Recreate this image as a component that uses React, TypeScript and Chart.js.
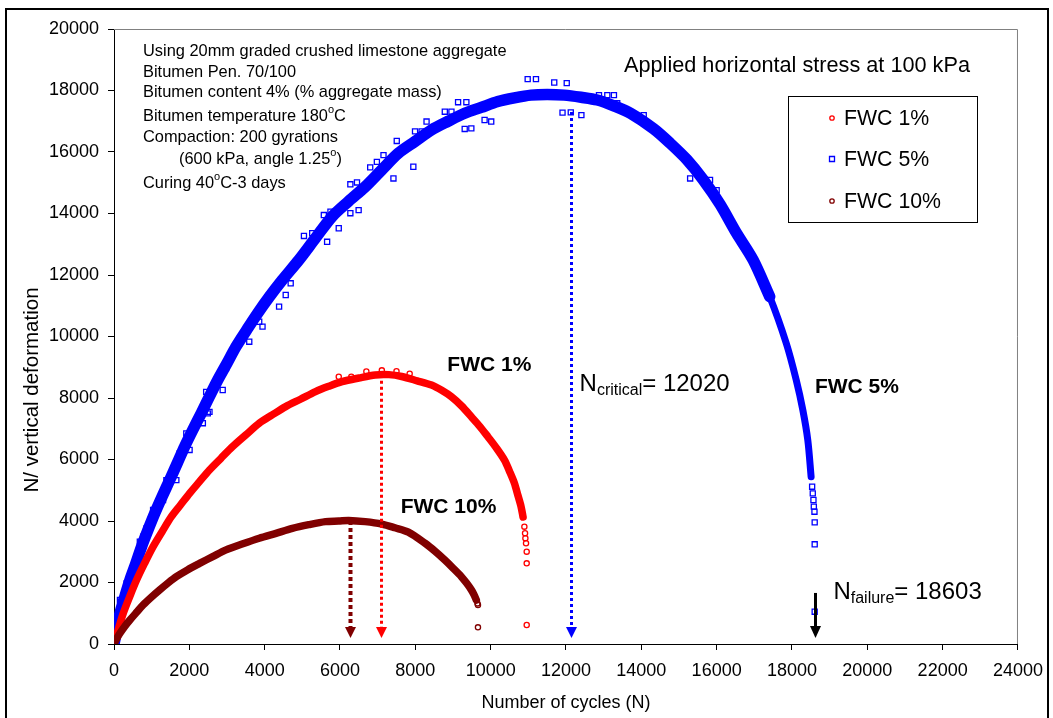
import React, { useEffect, useRef } from 'react';
import { Chart, registerables } from 'chart.js';

Chart.register(...registerables);

const FONT = '"Liberation Sans", Arial, Helvetica, sans-serif';

// ---------- axes ----------
const xTickValues = [0, 2000, 4000, 6000, 8000, 10000, 12000, 14000, 16000, 18000, 20000, 22000, 24000];
const yTickValues = [0, 2000, 4000, 6000, 8000, 10000, 12000, 14000, 16000, 18000, 20000];
const xTitle = 'Number of cycles (N)';
const yTitle = 'N/ vertical deformation';

// ---------- series ----------
const seriesNames = ['FWC 1%', 'FWC 5%', 'FWC 10%'];

// FWC 5% (blue squares): dense band centre line (main part and thinner tip, overlapping)
const fwc5BandX = [0, 80, 158, 290, 422, 580, 731, 900, 1082, 1280, 1478, 1680, 1875, 2090, 2315, 2530, 2754, 3000, 3239, 3520, 3810, 4130, 4471, 4911, 5350, 5790, 6230, 6670, 7110, 7551, 7990, 8431, 8870, 9311, 9750, 10191, 10630, 11071, 11500, 11952, 12400, 12832, 13270, 13711, 14330, 14768, 15210, 15648, 16090, 16528, 16968, 17408];
const fwc5BandY = [0, 500, 1000, 1550, 2080, 2620, 3165, 3700, 4250, 4800, 5330, 5880, 6420, 6960, 7500, 8040, 8585, 9130, 9670, 10210, 10750, 11300, 11840, 12490, 13200, 13900, 14400, 14870, 15420, 15960, 16340, 16720, 17000, 17260, 17450, 17640, 17760, 17850, 17870, 17850, 17780, 17690, 17500, 17260, 16750, 16280, 15750, 15090, 14300, 13360, 12490, 11300];
const fwc5TipX = [16528, 16968, 17408, 17848, 18112, 18288, 18420, 18508];
const fwc5TipY = [13360, 12490, 11300, 9780, 8590, 7610, 6630, 5440];
// FWC 5%: individual scattered / tail markers
const fwc5DotsX = [18535, 18552, 18570, 18580, 18597, 18603, 18603, 18603, 10983, 11203, 11688, 12020, 11908, 12127, 12409, 10015, 9839, 9487, 9311, 8298, 8783, 8959, 9135, 9355, 7992, 8167, 7947, 7507, 7155, 6802, 6979, 6275, 6451, 6495, 6275, 5571, 5747, 5262, 5043, 5658, 5967, 7419, 14064, 13273, 13097, 12876, 13185, 13360, 15296, 15824, 16000, 4383, 4559, 4691, 3943, 3855, 3678, 3459, 3591, 2886, 2975, 2799, 2447, 2886, 2535, 2490, 1919, 2359, 1743, 2007, 1391, 1655, 1038, 1302, 863, 774, 686, 510, 335, 158];
const fwc5DotsY = [5116, 4900, 4683, 4466, 4303, 3957, 3242, 1050, 18370, 18370, 18260, 18240, 17280, 17290, 17200, 16990, 17040, 16770, 16750, 16990, 17310, 17310, 17620, 17620, 16670, 16670, 15520, 16360, 15900, 15500, 15680, 14950, 15010, 14110, 14010, 13950, 14060, 13360, 13270, 13080, 13520, 15140, 17200, 17850, 17850, 17850, 17590, 17590, 15140, 15090, 14760, 10970, 11350, 11730, 10320, 10480, 10480, 10100, 9830, 8910, 8970, 8750, 8200, 8260, 7550, 7500, 6850, 7180, 6200, 6310, 5330, 5330, 4360, 4680, 3760, 3490, 3330, 2510, 1970, 1430];

// FWC 1% (red circles)
const fwc1BandX = [0, 100, 246, 420, 599, 810, 1038, 1280, 1523, 1765, 2007, 2270, 2535, 2840, 3150, 3500, 3855, 4200, 4559, 4950, 5351, 5700, 6055, 6500, 6935, 7300, 7639, 8050, 8431, 8700, 8959, 9230, 9487, 9710, 9927, 10150, 10367, 10500, 10631, 10720, 10807, 10860];
const fwc1BandY = [0, 420, 1000, 1550, 2080, 2620, 3165, 3660, 4140, 4520, 4900, 5280, 5660, 6040, 6420, 6800, 7180, 7450, 7720, 7960, 8210, 8380, 8530, 8650, 8750, 8760, 8700, 8560, 8420, 8250, 8040, 7740, 7390, 7080, 6740, 6380, 5980, 5620, 5230, 4850, 4470, 4130];
const fwc1DotsX = [10895, 10913, 10922, 10939, 10957, 10957, 10957, 7111, 5967, 6700, 7500, 6300, 7850];
const fwc1DotsY = [3816, 3600, 3437, 3275, 3003, 2623, 618, 8900, 8690, 8860, 8870, 8690, 8790];

// FWC 10% (dark red circles)
const fwc10BandX = [0, 60, 158, 290, 422, 600, 774, 990, 1214, 1430, 1655, 1950, 2271, 2620, 2975, 3400, 3855, 4300, 4735, 5170, 5615, 5967, 6231, 6670, 7111, 7460, 7815, 8255, 8520, 8783, 9000, 9223, 9360, 9487, 9560, 9619];
const fwc10BandY = [0, 150, 350, 580, 780, 1030, 1270, 1520, 1760, 1980, 2190, 2410, 2620, 2840, 3060, 3250, 3440, 3600, 3760, 3880, 3980, 4000, 4020, 3980, 3900, 3780, 3640, 3280, 3020, 2730, 2470, 2190, 1980, 1760, 1600, 1430];
const fwc10DotsX = [9650, 9663, 9663];
const fwc10DotsY = [1320, 1268, 542];

// ---------- arrows (critical / failure cycles) ----------
const arrowN = [6275, 7094, 12120, 18603];
const arrowFromY = [4000, 8760, 17300, 1660];
const arrowToY = [195, 195, 195, 195];
const nCritical = 12020;
const nFailure = 18603;

// ---------- annotation text ----------
const infoLines = [
  'Using 20mm graded crushed limestone aggregate',
  'Bitumen Pen. 70/100',
  'Bitumen content 4% (% aggregate mass)',
  'Bitumen temperature 180^oC',
  'Compaction: 200 gyrations',
  '(600 kPa, angle 1.25^o)',
  'Curing 40^oC-3 days',
];
const stressTitle = 'Applied horizontal stress at 100 kPa';

const BLUE = '#0000FF';
const RED = '#FF0000';
const DARK = '#800000';

const pts = (xs: number[], ys: number[]) => xs.map((x, i) => ({ x, y: ys[i] }));

function drawRuns(ctx: CanvasRenderingContext2D, x: number, y: number, runs: [string, number, number, string?][]) {
  let cx = x;
  for (const [t, size, dy, weight] of runs) {
    ctx.font = `${weight || 'normal'} ${size}px ${FONT}`;
    ctx.fillText(t, cx, y + dy);
    cx += ctx.measureText(t).width;
  }
}

function drawSup(ctx: CanvasRenderingContext2D, x: number, y: number, line: string, size: number) {
  const parts = line.split('^o');
  const runs: [string, number, number][] = [];
  parts.forEach((p, i) => {
    if (p) runs.push([p, size, 0]);
    if (i < parts.length - 1) runs.push(['o', Math.round(size * 0.68), -Math.round(size * 0.5)]);
  });
  drawRuns(ctx, x, y, runs);
}

const decorPlugin = {
  id: 'decor',
  beforeDraw(chart: any) {
    const ctx = chart.ctx;
    ctx.save();
    ctx.fillStyle = '#fff';
    ctx.fillRect(0, 0, chart.width, chart.height);
    ctx.restore();
  },
  beforeDatasetsDraw(chart: any) {
    const { ctx, chartArea: a } = chart;
    ctx.save();
    ctx.strokeStyle = '#808080';
    ctx.lineWidth = 1;
    ctx.beginPath();
    ctx.moveTo(a.left, a.top + 0.5);
    ctx.lineTo(a.right - 0.5, a.top + 0.5);
    ctx.lineTo(a.right - 0.5, a.bottom);
    ctx.stroke();
    // y axis title
    ctx.fillStyle = '#000';
    ctx.font = `normal 20.5px ${FONT}`;
    ctx.textAlign = 'center';
    ctx.textBaseline = 'middle';
    ctx.translate(32, 390);
    ctx.rotate(-Math.PI / 2);
    ctx.fillText(yTitle, 0, 0);
    ctx.restore();
  },
  afterDatasetsDraw(chart: any) {
    const { ctx } = chart;
    const xs = chart.scales.x;
    const ys = chart.scales.y;
    ctx.save();
    // arrows
    const colors = [DARK, RED, BLUE, '#000'];
    const widths = [4, 3, 3, 3];
    const dashes = [[4, 3], [3, 3], [3, 3], []];
    arrowN.forEach((n, i) => {
      const px = Math.round(xs.getPixelForValue(n)) + 0.5;
      const y1 = ys.getPixelForValue(arrowFromY[i]);
      const y2 = ys.getPixelForValue(arrowToY[i]);
      const head = i === 3 ? 12 : 11;
      ctx.strokeStyle = colors[i];
      ctx.fillStyle = colors[i];
      ctx.lineWidth = widths[i];
      ctx.setLineDash(dashes[i]);
      ctx.beginPath();
      ctx.moveTo(px, y1);
      ctx.lineTo(px, y2 - head + 1);
      ctx.stroke();
      ctx.setLineDash([]);
      ctx.beginPath();
      ctx.moveTo(px - 5.5, y2 - head);
      ctx.lineTo(px + 5.5, y2 - head);
      ctx.lineTo(px, y2);
      ctx.closePath();
      ctx.fill();
    });

    ctx.fillStyle = '#000';
    ctx.textBaseline = 'alphabetic';
    ctx.textAlign = 'left';
    // info block
    const baselines = [56, 77, 97, 121, 142, 164, 188];
    infoLines.forEach((line, i) => {
      drawSup(ctx, i === 5 ? 179 : 143, baselines[i], line, 16.4);
    });
    // stress title
    ctx.font = `normal 21.7px ${FONT}`;
    ctx.fillText(stressTitle, 624, 72);

    // curve labels (anchored in data coordinates)
    const lab = (t: string, x: number, y: number) => {
      ctx.font = `bold 21px ${FONT}`;
      ctx.fillText(t, xs.getPixelForValue(x), ys.getPixelForValue(y));
    };
    lab(seriesNames[0], 8850, 8880);
    lab(seriesNames[2], 7610, 4270);
    lab(seriesNames[1], 18610, 8150);

    // N critical / N failure
    drawRuns(ctx, xs.getPixelForValue(12360), ys.getPixelForValue(8230), [
      ['N', 24, 0], ['critical', 16, 4], ['= ' + nCritical, 24, 0],
    ]);
    drawRuns(ctx, xs.getPixelForValue(19100), ys.getPixelForValue(1470), [
      ['N', 24, 0], ['failure', 16, 4], ['= ' + nFailure, 24, 0],
    ]);

    // legend box
    const bx = 788, by = 96, bw = 189, bh = 126;
    ctx.fillStyle = '#fff';
    ctx.fillRect(bx, by, bw, bh);
    ctx.strokeStyle = '#000';
    ctx.lineWidth = 1;
    ctx.strokeRect(bx + 0.5, by + 0.5, bw, bh);
    const rows = [118, 159, 201];
    const markerDs = chart.data.datasets.filter((d: any) => d.isMarker);
    seriesNames.forEach((name, i) => {
      const ds = markerDs.find((d: any) => d.label === name);
      const my = rows[i];
      ctx.strokeStyle = ds.borderColor;
      ctx.lineWidth = 1.3;
      ctx.beginPath();
      if (ds.pointStyle === 'rect') {
        ctx.rect(829.5, my - 2.5, 5, 5);
      } else {
        ctx.arc(832, my, 2.2, 0, Math.PI * 2);
      }
      ctx.stroke();
      ctx.fillStyle = '#000';
      ctx.font = `normal 21.3px ${FONT}`;
      ctx.textBaseline = 'middle';
      ctx.fillText(name, 844, my + 1);
      ctx.textBaseline = 'alphabetic';
    });
    ctx.restore();
  },
  afterDraw(chart: any) {
    const ctx = chart.ctx;
    ctx.save();
    ctx.strokeStyle = '#000';
    ctx.lineWidth = 2;
    ctx.strokeRect(6, 9, 1042, 720);
    ctx.restore();
  },
};

const band = (label: string, order: number, xs: number[], ys: number[], color: string, width: number) => ({
  label, order, data: pts(xs, ys), showLine: true, pointRadius: 0, borderColor: color, borderWidth: width,
  borderCapStyle: 'round', borderJoinStyle: 'round', tension: 0.3,
});

const markers = (label: string, order: number, xs: number[], ys: number[], color: string, style: string, r: number) => ({
  label, isMarker: true, order, data: pts(xs, ys), showLine: false, pointStyle: style, pointRadius: r,
  borderWidth: 1.3, borderColor: color, backgroundColor: 'rgba(0,0,0,0)',
});

export default function App() {
  const ref = useRef<HTMLCanvasElement | null>(null);
  useEffect(() => {
    const canvas = ref.current;
    if (!canvas) return;
    const tickFont = { family: FONT, size: 18 };
    const chart = new Chart(canvas, {
      type: 'scatter',
      data: {
        datasets: [
          markers(seriesNames[2], 0, fwc10DotsX, fwc10DotsY, DARK, 'circle', 2.6),
          band('band10', 1, fwc10BandX, fwc10BandY, DARK, 7.5),
          markers(seriesNames[0], 2, fwc1DotsX, fwc1DotsY, RED, 'circle', 2.6),
          band('band1', 3, fwc1BandX, fwc1BandY, RED, 7.5),
          markers(seriesNames[1], 4, fwc5DotsX, fwc5DotsY, BLUE, 'rect', 3.6),
          band('band5tip', 5, fwc5TipX, fwc5TipY, BLUE, 7),
          band('band5', 6, fwc5BandX, fwc5BandY, BLUE, 11.5),
        ] as any,
      },
      options: {
        responsive: false,
        animation: false,
        devicePixelRatio: 1,
        layout: { padding: { top: 29, right: 30, left: 0, bottom: 0 } },
        plugins: { legend: { display: false }, tooltip: { enabled: false } },
        scales: {
          x: {
            type: 'linear',
            min: 0,
            max: 24000,
            afterBuildTicks: (s: any) => { s.ticks = xTickValues.map((v) => ({ value: v })); },
            afterFit: (s: any) => { s.height = 74; },
            ticks: { font: tickFont, color: '#000', padding: 10, maxRotation: 0, autoSkip: false, callback: (v: any) => String(v) },
            grid: { drawOnChartArea: false, drawTicks: true, tickLength: 6, color: '#000' },
            border: { display: true, color: '#000', width: 1 },
            title: { display: true, text: xTitle, color: '#000', font: { family: FONT, size: 18 }, padding: { top: 0, bottom: 4 } },
          },
          y: {
            type: 'linear',
            min: 0,
            max: 20000,
            afterBuildTicks: (s: any) => { s.ticks = yTickValues.map((v) => ({ value: v })); },
            afterFit: (s: any) => { s.width = 114; },
            ticks: { font: tickFont, color: '#000', padding: 9, autoSkip: false, callback: (v: any) => String(v) },
            grid: { drawOnChartArea: false, drawTicks: true, tickLength: 6, color: '#000' },
            border: { display: true, color: '#000', width: 1 },
            title: { display: false },
          },
        },
      } as any,
      plugins: [decorPlugin],
    });
    return () => chart.destroy();
  }, []);

  return (
    <div style={{ position: 'absolute', left: 0, top: 0, width: 1053, height: 718, background: '#fff' }}>
      <canvas ref={ref} width={1053} height={718} style={{ width: 1053, height: 718, display: 'block' }} />
    </div>
  );
}
